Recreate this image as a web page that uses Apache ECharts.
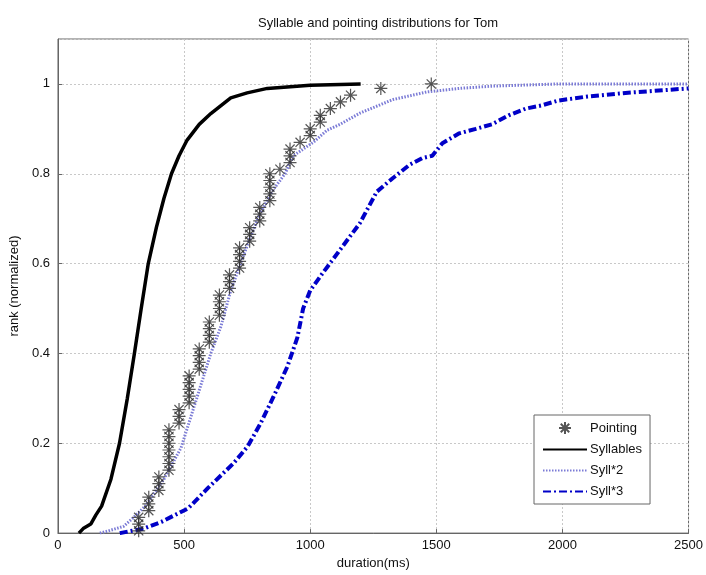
<!DOCTYPE html>
<html><head><meta charset="utf-8">
<script src="https://cdn.jsdelivr.net/npm/echarts@6/dist/echarts.min.js"></script>
<style>html,body{margin:0;padding:0;background:#fff}#c{width:706px;height:575px}</style>
</head><body><div id="c"></div>
<script>
const titleText = 'Syllable and pointing distributions for Tom';
const xTicks = [0, 500, 1000, 1500, 2000, 2500];
const yTicks = [0, 0.2, 0.4, 0.6, 0.8, 1];

const pointingMs = [320,320,320, 360,360,360, 400,400,400, 440,440,440,440,440,440,440, 480,480,480,
  520,520,520,520,520, 560,560,560,560, 600,600,600,600, 640,640,640,640, 680,680,680,
  720,720,720,720, 760,760,760, 800,800,800, 840,840,840,840,840, 880, 920,920,920, 960,
  1000,1000, 1040,1040, 1080, 1120, 1160, 1280, 1480];
const pointingRank = [0.005,0.02,0.035, 0.05,0.065,0.08, 0.095,0.11,0.125, 0.14,0.155,0.17,0.185,0.2,0.215,0.23, 0.245,0.26,0.275,
  0.29,0.305,0.32,0.335,0.35, 0.365,0.38,0.395,0.41, 0.425,0.44,0.455,0.47, 0.485,0.5,0.515,0.53, 0.545,0.56,0.575,
  0.59,0.605,0.62,0.635, 0.65,0.665,0.68, 0.695,0.71,0.725, 0.74,0.755,0.77,0.785,0.8, 0.81, 0.825,0.84,0.855, 0.87,
  0.885,0.9, 0.915,0.93, 0.945, 0.96, 0.975, 0.99, 1.0];

const syllMs   = [83, 100, 130, 150, 173, 210, 244, 275, 303, 330, 358, 390, 420, 450, 480, 512, 560, 606, 685, 750, 830, 1000, 1200];
const syllRank = [0, 0.01, 0.02, 0.04, 0.06, 0.12, 0.2, 0.3, 0.4, 0.5, 0.6, 0.68, 0.745, 0.8, 0.84, 0.875, 0.91, 0.934, 0.969, 0.98, 0.99, 0.997, 1.0];

const syll2Ms   = [166, 200, 260, 300, 346, 420, 488, 550, 606, 646, 685, 724, 760, 800, 854, 900, 933, 1012, 1067, 1118, 1197, 1327, 1461, 1591, 1720, 1984, 2500];
const syll2Rank = [0, 0.005, 0.015, 0.035, 0.06, 0.12, 0.19, 0.3, 0.4, 0.46, 0.54, 0.6, 0.655, 0.71, 0.765, 0.8, 0.84, 0.87, 0.897, 0.91, 0.935, 0.965, 0.982, 0.99, 0.995, 1.0, 1.0];

const syll3Ms   = [245, 340, 410, 516, 594, 697, 752, 803, 854, 909, 949, 972, 1000, 1051, 1091, 1157, 1197, 1264, 1327, 1394, 1445, 1484, 1524, 1591, 1657, 1720, 1787, 1854, 1917, 1984, 2100, 2250, 2400, 2500];
const syll3Rank = [0, 0.01, 0.025, 0.055, 0.1, 0.156, 0.193, 0.244, 0.303, 0.37, 0.435, 0.5, 0.54, 0.58, 0.61, 0.66, 0.69, 0.76, 0.79, 0.82, 0.835, 0.84, 0.868, 0.89, 0.9, 0.91, 0.93, 0.945, 0.952, 0.963, 0.972, 0.98, 0.986, 0.99];

const zip = (a, b) => a.map((v, i) => [v, b[i]]);
const star = 'path://M0,-10L0,10M-10,0L10,0M-7.07,-7.07L7.07,7.07M-7.07,7.07L7.07,-7.07';
const font = 'Liberation Sans, Arial, sans-serif';
const hiddenSym = {opacity: 0};

const chart = echarts.init(document.getElementById('c'), null, {renderer: 'canvas'});
chart.setOption({
  animation: false,
  backgroundColor: '#fff',
  title: {text: titleText, left: 373, textAlign: 'center', top: 12,
    textStyle: {fontFamily: font, fontSize: 13, fontWeight: 'normal', color: '#111'}},
  grid: {left: 56, right: 15, top: 39, bottom: 37, show: true, borderColor: '#666', borderWidth: 1},
  legend: {
    orient: 'vertical', left: 534, top: 415, width: 120,
    backgroundColor: '#fff', borderColor: '#666', borderWidth: 1,
    padding: [6, 8, 6, 8], itemGap: 8, itemWidth: 44, itemHeight: 12,
    textStyle: {fontFamily: font, fontSize: 13, color: '#111', padding: [0,0,0,-2]},
    data: [
      {name: 'Pointing'},
      {name: 'Syllables', itemStyle: hiddenSym},
      {name: 'Syll*2', itemStyle: hiddenSym},
      {name: 'Syll*3', itemStyle: hiddenSym}
    ]
  },
  xAxis: {
    type: 'value', min: xTicks[0], max: xTicks[xTicks.length - 1], interval: 500,
    name: 'duration(ms)', nameLocation: 'middle', nameGap: 23,
    nameTextStyle: {fontFamily: font, fontSize: 13, color: '#111'},
    axisLine: {show: true, lineStyle: {color: '#666'}},
    axisTick: {show: true, inside: true, length: 4, lineStyle: {color: '#666'}},
    axisLabel: {fontFamily: font, fontSize: 13, color: '#111', margin: 6, formatter: v => String(v)},
    splitLine: {show: true, lineStyle: {color: '#c8c8c8', type: [2, 2]}}
  },
  yAxis: {
    type: 'value', min: 0, max: 1.1, interval: 0.2,
    name: 'rank (normalized)', nameLocation: 'middle', nameGap: 36, nameRotate: 90,
    nameTextStyle: {fontFamily: font, fontSize: 13, color: '#111'},
    axisLine: {show: true, lineStyle: {color: '#666'}},
    axisTick: {show: true, inside: true, length: 4, lineStyle: {color: '#666'}},
    axisLabel: {fontFamily: font, fontSize: 13, color: '#111', margin: 8, showMaxLabel: false,
      formatter: v => yTicks.includes(Math.round(v * 10) / 10) ? String(Math.round(v * 10) / 10) : ''},
    splitLine: {show: true, lineStyle: {color: '#c8c8c8', type: [2, 2]}}
  },
  series: [
    {name: 'Pointing', type: 'scatter', data: zip(pointingMs, pointingRank), symbol: star, symbolSize: 13,
      itemStyle: {color: 'rgba(0,0,0,0)', borderColor: '#2a2a2a', borderWidth: 1.2}, z: 5},
    {name: 'Syllables', type: 'line', data: zip(syllMs, syllRank), showSymbol: false, symbol: 'none',
      lineStyle: {color: '#000', width: 3.5}, itemStyle: {color: '#000'}},
    {name: 'Syll*2', type: 'line', data: zip(syll2Ms, syll2Rank), showSymbol: false, symbol: 'none',
      lineStyle: {color: '#7b7bd6', width: 3, type: [1.5, 1.5]}, itemStyle: {color: '#7b7bd6'}},
    {name: 'Syll*3', type: 'line', data: zip(syll3Ms, syll3Rank), showSymbol: false, symbol: 'none',
      lineStyle: {color: '#0000c8', width: 4, type: [8, 3, 2, 3]}, itemStyle: {color: '#0000c8'}}
  ]
});
</script></body></html>
